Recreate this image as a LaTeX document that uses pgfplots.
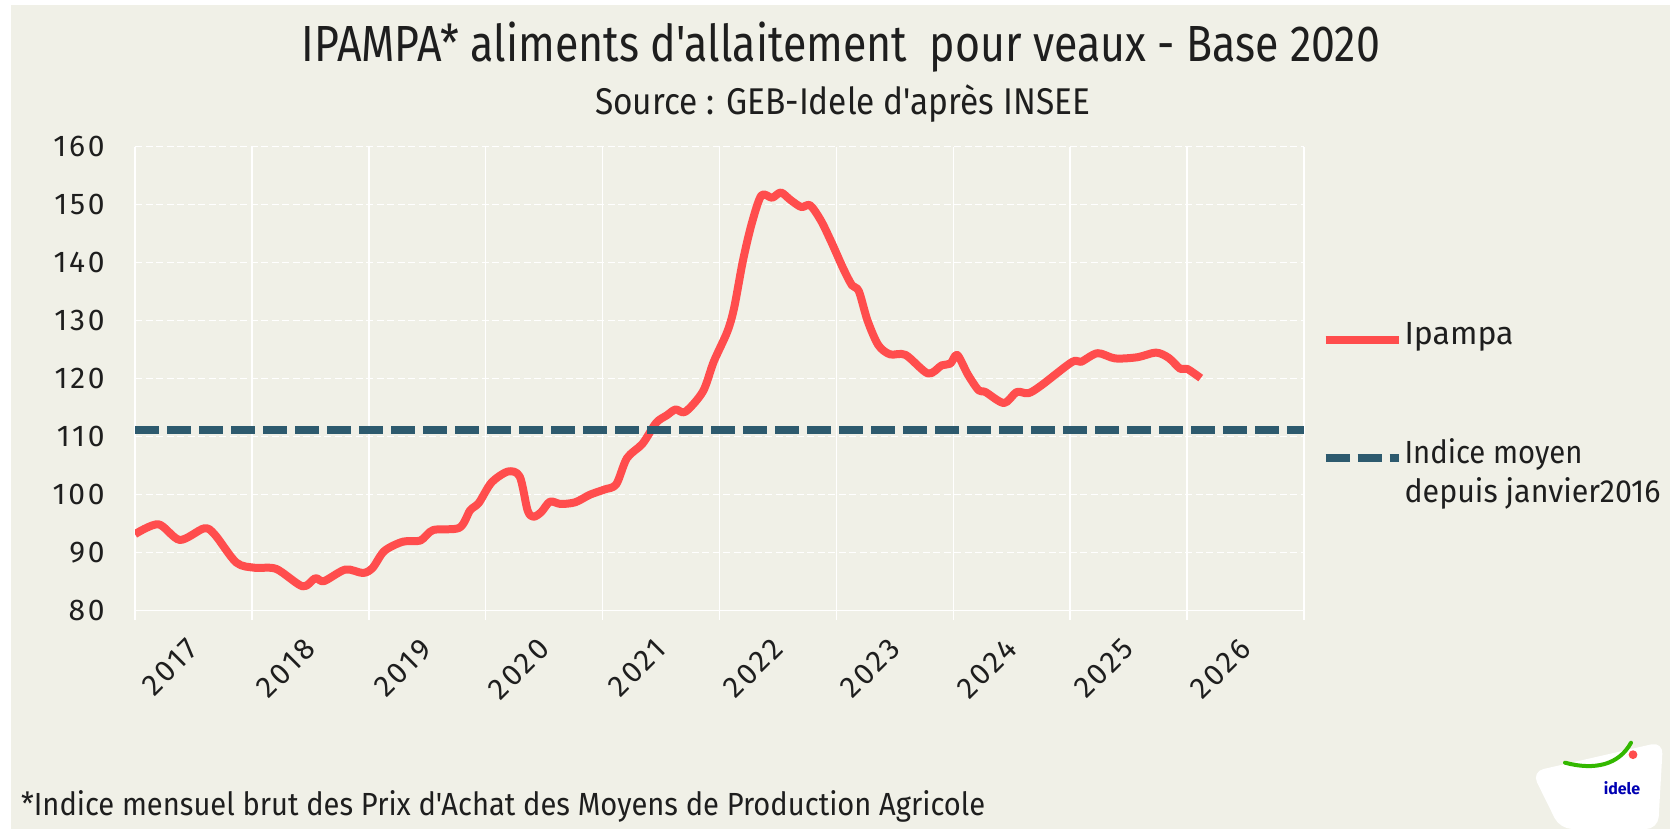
\documentclass[border=0pt]{standalone}
\usepackage{graphicx}
\usepackage{fontspec}
\setmainfont{Fira Sans}[Ligatures=TeXOff]
\usepackage{pgfplots}
\pgfplotsset{compat=1.18}

\definecolor{bg}{HTML}{F0F0E7}
\definecolor{ipred}{HTML}{FF4D4D}
\definecolor{moyblue}{HTML}{2D5A6E}
\definecolor{txt}{HTML}{1E1E1E}

% squeeze a line of text to a given width (pt), keeping its height
\newlength\tmpw
\newcommand\fitx[2]{\settowidth{\tmpw}{#2}\pgfmathsetmacro\sx{#1/\tmpw}\scalebox{\sx}[1]{#2}}

\begin{document}
\begin{tikzpicture}
% page: 1670x829 px at 0.5pt/px, origin = lower left corner of the plot area
\path[use as bounding box] (-67.5pt,-109.15pt) rectangle (767.5pt,305.35pt);
\fill[white] (-67.5pt,-109.15pt) rectangle (767.5pt,305.35pt);
\fill[bg] (-62pt,-109.15pt) rectangle (767.5pt,302.85pt);

\begin{axis}[
  scale only axis, width=584.5pt, height=232pt,
  xmin=0, xmax=120, ymin=80, ymax=160,
  xtick={0,12,...,120}, x tick label as interval,
  xticklabels={2017,2018,2019,2020,2021,2022,2023,2024,2025,2026},
  ytick={80,90,...,160},
  axis lines*=left,
  axis line style={white, line width=0.75pt},
  xmajorgrids, ymajorgrids,
  x grid style={white, line width=0.75pt},
  y grid style={white, line width=0.75pt, dash pattern=on 3.5pt off 1.75pt},
  tick align=outside, major tick length=4.5pt,
  xtick style={white, line width=0.75pt},
  ytick style={draw=none},
  /pgf/number format/assume math mode=true,
  tick label style={font=\fontsize{15}{18}\selectfont\addfontfeature{LetterSpace=9}, text=txt},
  xticklabel style={yshift=-12pt, rotate=45, anchor=east, inner sep=0pt},
  yticklabel style={anchor=east, inner sep=0pt, xshift=-10.5pt},
  legend style={at={(1.015,0.6287)}, anchor=north west, draw=none, fill=none,
    inner sep=0pt, outer sep=0pt, row sep=0.5pt, column sep=1pt,
    font=\fontsize{16}{19}\selectfont, text=txt,
    cells={anchor=base west},
    nodes={inner sep=0pt, text height=13pt, text depth=6.2pt}},
  legend image code/.code={\draw[#1] (0pt,2.5pt) -- (36.5pt,2.5pt);},
]
\addplot[ipred, line width=4pt, smooth, tension=0.5, line join=round] coordinates {
  (0,93.2)(2.4,94.9)(4.6,92.2)(7.1,94.2)(8.2,93.1)(10.4,88.3)(12.3,87.4)
  (14.5,87.2)(17.2,84.2)(18.5,85.6)(19.4,85.1)(21.6,87.1)(23.4,86.5)(24.4,87.4)
  (25.6,90.3)(27.5,91.9)(29.3,92.1)(30.6,93.9)(33.3,94.3)(34.4,97.3)(35.3,98.6)
  (36.6,102.1)(38.3,104.0)(39.5,103.1)(40.3,97.3)(40.9,96.2)(41.7,97.0)(42.6,98.8)
  (43.7,98.4)(45.2,98.7)(46.7,100.0)(48.2,100.9)(49.4,101.8)(50.5,106.3)(52.1,108.8)
  (53.5,112.4)(54.6,113.7)(55.5,114.7)(56.5,114.3)(58.3,117.8)(59.4,122.9)(60.8,128.1)
  (61.5,132.2)(62.4,140.3)(63.3,146.7)(64.3,151.6)(65.4,151.2)(66.3,152.1)(67.3,150.8)
  (68.4,149.6)(69.3,149.9)(70.4,147.3)(71.5,143.5)(72.7,139.0)(73.6,136.1)(74.3,135.1)
  (75.2,130.0)(76.3,125.8)(77.5,124.2)(79.1,124.1)(81.4,120.9)(82.8,122.3)(83.7,122.6)
  (84.4,124.1)(85.5,120.7)(86.6,118.0)(87.3,117.7)(89.2,115.8)(90.5,117.7)(91.7,117.5)
  (93.0,118.8)(96.2,122.9)(97.1,122.9)(98.8,124.4)(100.6,123.5)(102.9,123.7)(104.8,124.5)
  (106.1,123.6)(107.3,121.7)(108.0,121.7)(109.4,120.1)
};
\addlegendentry{Ipampa}
\addlegendimage{empty legend}
\addlegendentry{}
\addlegendimage{empty legend}
\addlegendentry{}
\addplot[moyblue, line width=4pt, dash pattern=on 12pt off 4pt] coordinates {(0,111.2)(120,111.2)};
\addlegendentry{\fitx{89}{Indice moyen}}
\addlegendimage{empty legend}
\addlegendentry{\fitx{128}{depuis janvier2016}}
\end{axis}

% titles and note
\node[anchor=base, text=txt, inner sep=0pt] at (353pt,274.5pt)
  {\fitx{539}{\fontsize{25.4}{30}\selectfont IPAMPA* aliments d'allaitement\ \ pour veaux - Base 2020}};
\node[anchor=base, text=txt, inner sep=0pt] at (353.75pt,247.85pt)
  {\fitx{247.5}{\fontsize{18.6}{22}\selectfont Source : GEB-Idele d'après INSEE}};
\node[anchor=base west, text=txt, inner sep=0pt] at (-57.15pt,-102.15pt)
  {\fitx{482}{\fontsize{16}{19}\selectfont *Indice mensuel brut des Prix d'Achat des Moyens de Production Agricole}};

% logo badge
\fill[white, rounded corners=6pt] (698.35pt,-80.5pt) -- (764pt,-65.5pt) -- (761.5pt,-109.15pt) -- (712.5pt,-109.15pt) -- cycle;
\draw[green!65!black!80!yellow, line width=2pt, line cap=round] (715pt,-76pt) .. controls (730pt,-80pt) and (742pt,-77pt) .. (748pt,-66pt);
\fill[ipred] (749pt,-72pt) circle (2.2pt);
\node[anchor=base, inner sep=0pt, text=blue!70!black, font=\bfseries\fontsize{8}{9}\selectfont] at (743.5pt,-92pt) {idele};
\end{tikzpicture}
\end{document}
